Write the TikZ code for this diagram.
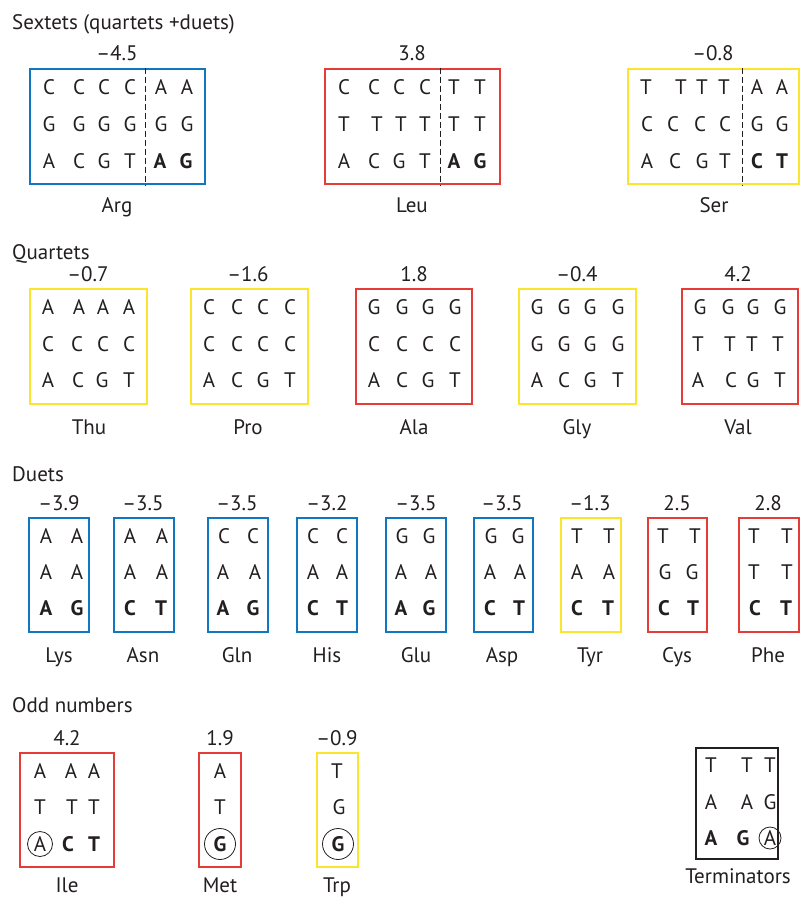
\documentclass[tikz,border=0pt]{standalone}
\usepackage{fontspec}
\setmainfont{PT Sans}
\usetikzlibrary{fit}
\definecolor{cblue}{RGB}{16,120,192}
\definecolor{cred}{RGB}{230,60,55}
\definecolor{cyel}{RGB}{250,228,45}
\definecolor{ink}{RGB}{35,31,32}
\newcommand\nrow[3]{\foreach \xx/\ll [count=\ii] in {#3} {\node[nuc] (#1-\ii) at (\xx,#2) {\ll};}}
\newcommand\cbox[6]{\node[bx, draw=#6, fit={(#2,#3) (#4,#5)}] (#1) {};}
\newcommand\bl[1]{\textbf{#1}}
\begin{document}
\begin{tikzpicture}[x=1pt,y=-1pt,
  nuc/.style={inner sep=0pt, font=\fontsize{21}{25}\selectfont, text=ink},
  lab/.style={inner sep=0pt, anchor=base, font=\fontsize{21}{25}\selectfont, text=ink},
  head/.style={inner sep=0pt, anchor=base west, font=\fontsize{21}{25}\selectfont, text=ink},
  bx/.style={inner sep=0pt, line width=2.6pt},
  dashline/.style={draw=ink, line width=1pt, dash pattern=on 6pt off 3pt},
  circ/.style={nuc, draw=ink, circle, line width=0.8pt}]
\useasboundingbox[fill=white] (0,0) rectangle (801,899);
% ---------- Sextets ----------
\node[head] (h1) at (12,30) {Sextets (quartets +duets)};
\node[lab] (argval) at (117,60) {–4.5};
\node[lab] (leuval) at (412,60) {3.8};
\node[lab] (serval) at (713,60) {–0.8};
\cbox{argbox}{30}{69}{205}{184}{cblue}
\cbox{leubox}{325}{69}{500}{184}{cred}
\cbox{serbox}{628}{69}{799}{184}{cyel}
\coordinate (argd) at (145,0);
\coordinate (leud) at (440,0);
\coordinate (serd) at (742,0);
\draw[dashline] (argbox.north -| argd) -- (argbox.south -| argd);
\draw[dashline] (leubox.north -| leud) -- (leubox.south -| leud);
\draw[dashline] (serbox.north -| serd) -- (serbox.south -| serd);
\nrow{arga}{87}{49/C,79/C,104/C,130/C,161/A,187/A}
\nrow{argb}{124}{49/G,79/G,104/G,130/G,161/G,187/G}
\nrow{argc}{161}{49/A,79/C,104/G,130/T,160/\bl{A},186/\bl{G}}
\nrow{leua}{87}{344/C,374/C,399/C,425/C,454/T,480/T}
\nrow{leub}{124}{344/T,377/T,401/T,425/T,454/T,480/T}
\nrow{leuc}{161}{344/A,374/C,399/G,425/T,454/\bl{A},480/\bl{G}}
\nrow{sera}{87}{646/T,681/T,702/T,724/T,757/A,782/A}
\nrow{serb}{124}{647/C,673/C,700/C,725/C,757/G,782/G}
\nrow{serc}{161}{647/A,675/C,702/G,725/T,757/\bl{C},782/\bl{T}}
\node[lab] (arglab) at (117,212) {Arg};
\node[lab] (leulab) at (412,212) {Leu};
\node[lab] (serlab) at (714,212) {Ser};
% ---------- Quartets ----------
\node[head] (h2) at (12,259) {Quartets};
\node[lab] (thuval) at (88,281) {–0.7};
\node[lab] (proval) at (248,281) {–1.6};
\node[lab] (alaval) at (414,281) {1.8};
\node[lab] (glyval) at (577,281) {–0.4};
\node[lab] (valval) at (738,281) {4.2};
\cbox{thubox}{30}{289}{147}{404}{cyel}
\cbox{probox}{191}{289}{308}{404}{cyel}
\cbox{alabox}{356}{289}{472}{404}{cred}
\cbox{glybox}{519}{289}{636}{404}{cyel}
\cbox{valbox}{682}{289}{798}{404}{cred}
\nrow{thua}{307}{48/A,79/A,103/A,129/A}
\nrow{thub}{344}{48/C,77/C,103/C,129/C}
\nrow{thuc}{380}{48/A,78/C,102/G,129/T}
\nrow{proa}{307}{209/C,237/C,263/C,290/C}
\nrow{prob}{344}{209/C,237/C,263/C,290/C}
\nrow{proc}{380}{209/A,237/C,263/G,290/T}
\nrow{alaa}{307}{374/G,402/G,428/G,455/G}
\nrow{alab}{344}{374/C,402/C,428/C,455/C}
\nrow{alac}{380}{374/A,402/C,428/G,455/T}
\nrow{glya}{307}{537/G,564/G,590/G,618/G}
\nrow{glyb}{344}{537/G,564/G,590/G,618/G}
\nrow{glyc}{380}{537/A,564/C,590/G,618/T}
\nrow{vala}{307}{700/G,728/G,753/G,780/G}
\nrow{valb}{344}{698/T,730/T,752/T,778/T}
\nrow{valc}{380}{698/A,731/C,753/G,780/T}
\node[lab] (thulab) at (89,434) {Thu};
\node[lab] (prolab) at (248,434) {Pro};
\node[lab] (alalab) at (414,434) {Ala};
\node[lab] (glylab) at (577,434) {Gly};
\node[lab] (vallab) at (738,434) {Val};
% ---------- Duets ----------
\node[head] (h3) at (12,481) {Duets};
\cbox{lysbox}{29}{518}{89}{632}{cblue}
\cbox{asnbox}{114}{518}{174}{632}{cblue}
\cbox{glnbox}{208}{518}{268}{632}{cblue}
\cbox{hisbox}{297}{518}{357}{632}{cblue}
\cbox{glubox}{386}{518}{446}{632}{cblue}
\cbox{aspbox}{474}{518}{533}{632}{cblue}
\cbox{tyrbox}{561}{518}{621}{632}{cyel}
\cbox{cysbox}{648}{518}{707}{632}{cred}
\cbox{phebox}{739}{518}{799}{632}{cred}
\node[lab] (lysval) at (59,510) {–3.9};
\node[lab] (asnval) at (143,510) {–3.5};
\node[lab] (glnval) at (237,510) {–3.5};
\node[lab] (hisval) at (327,510) {–3.2};
\node[lab] (gluval) at (416,510) {–3.5};
\node[lab] (aspval) at (502,510) {–3.5};
\node[lab] (tyrval) at (590,510) {–1.3};
\node[lab] (cysval) at (677,510) {2.5};
\node[lab] (pheval) at (768,510) {2.8};
\nrow{lysa}{536}{46/A,77/A}
\nrow{lysb}{572}{46/A,77/A}
\nrow{lysc}{608}{46/\bl{A},77/\bl{G}}
\nrow{asna}{536}{130/A,162/A}
\nrow{asnb}{572}{130/A,162/A}
\nrow{asnc}{608}{130/\bl{C},161/\bl{T}}
\nrow{glna}{536}{224/C,253/C}
\nrow{glnb}{572}{223/A,255/A}
\nrow{glnc}{608}{223/\bl{A},253/\bl{G}}
\nrow{hisa}{536}{313/C,342/C}
\nrow{hisb}{572}{313/A,342/A}
\nrow{hisc}{608}{313/\bl{C},342/\bl{T}}
\nrow{glua}{536}{402/G,429/G}
\nrow{glub}{572}{401/A,431/A}
\nrow{gluc}{608}{401/\bl{A},429/\bl{G}}
\nrow{aspa}{536}{491/G,518/G}
\nrow{aspb}{572}{490/A,520/A}
\nrow{aspc}{608}{490/\bl{C},519/\bl{T}}
\nrow{tyra}{536}{577/T,609/T}
\nrow{tyrb}{572}{577/A,609/A}
\nrow{tyrc}{608}{577/\bl{C},608/\bl{T}}
\nrow{cysa}{536}{663/T,695/T}
\nrow{cysb}{572}{665/G,692/G}
\nrow{cysc}{608}{664/\bl{C},693/\bl{T}}
\nrow{phea}{536}{754/T,787/T}
\nrow{pheb}{572}{754/T,787/T}
\nrow{phec}{608}{755/\bl{C},786/\bl{T}}
\node[lab] (lyslab) at (59,662) {Lys};
\node[lab] (asnlab) at (143,662) {Asn};
\node[lab] (glnlab) at (237,662) {Gln};
\node[lab] (hislab) at (327,662) {His};
\node[lab] (glulab) at (416,662) {Glu};
\node[lab] (asplab) at (502,662) {Asp};
\node[lab] (tyrlab) at (590,662) {Tyr};
\node[lab] (cyslab) at (677,662) {Cys};
\node[lab] (phelab) at (768,662) {Phe};
% ---------- Odd numbers ----------
\node[head] (h4) at (12,712) {Odd numbers};
\node[lab] (ileval) at (67,745) {4.2};
\node[lab] (metval) at (220,745) {1.9};
\node[lab] (trpval) at (337,745) {–0.9};
\cbox{ilebox}{20}{753}{114}{867}{cred}
\cbox{metbox}{199}{753}{241}{867}{cred}
\cbox{trpbox}{317}{753}{358}{867}{cyel}
\nrow{ilea}{771}{40/A,71/A,94/A}
\nrow{ileb}{807}{40/T,72/T,94/T}
\node[circ, minimum size=25pt] (ilec1) at (40,844) {A};
\nrow{ilec}{844}{68/\bl{C},94/\bl{T}}
\node[nuc] (meta) at (220,771) {A};
\node[nuc] (metb) at (220,807) {T};
\node[circ, minimum size=31pt] (metc) at (220,844) {\bl{G}};
\node[nuc] (trpa) at (337,771) {T};
\node[nuc] (trpb) at (339,807) {G};
\node[circ, minimum size=31pt] (trpc) at (338,844) {\bl{G}};
\node[lab] (ilelab) at (67,892) {Ile};
\node[lab] (metlab) at (220,892) {Met};
\node[lab] (trplab) at (337,892) {Trp};
% ---------- Terminators ----------
\node[bx, draw=ink, fit={(696,748) (778,859)}] (termbox) {};
\nrow{terma}{765}{711/T,747/T,770/T}
\nrow{termb}{802}{711/A,747/A,770/G}
\nrow{termc}{838}{711/\bl{A},743/\bl{G}}
\node[circ, minimum size=22pt] (termc3) at (770,838) {A};
\node[lab] (termlab) at (738,883) {Terminators};
\end{tikzpicture}
\end{document}
